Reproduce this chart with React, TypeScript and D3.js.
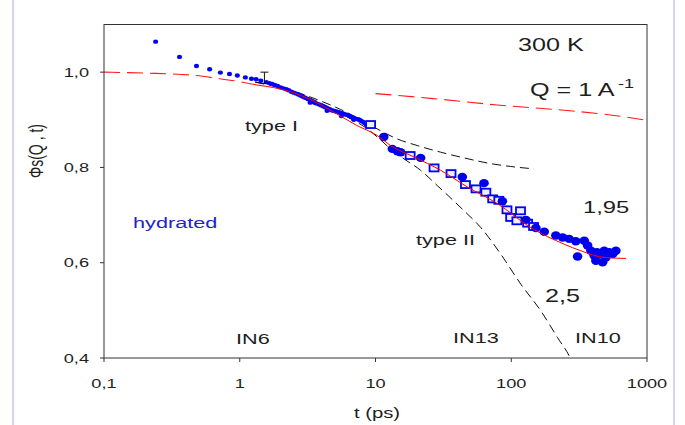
import React from "react";
import * as d3 from "d3";

const width = 685;
const height = 425;
const margin = { top: 24.5, right: 38, bottom: 67, left: 104 };
const FONT = "'Liberation Sans', Arial, sans-serif";
const SX = 1.4; // the reference is stretched sideways

const xTicks = [0.1, 1, 10, 100, 1000];
const xTickLabels = ["0,1", "1", "10", "100", "1000"];
const yTicks = [0.4, 0.6, 0.8, 1.0];
const yTickLabels = ["0,4", "0,6", "0,8", "1,0"];

// IN6 small dots
const in6T = [0.24, 0.36, 0.48, 0.6, 0.72, 0.84, 0.96, 1.1, 1.22, 1.32, 1.43, 1.57, 1.65, 1.73, 1.81, 1.9, 2.0, 2.1, 2.2, 2.29, 2.4, 2.5, 2.6, 2.7, 2.8, 2.9, 3.0, 3.1, 3.2, 3.3, 3.4, 3.5, 3.6, 3.7, 3.85, 4.0, 4.15, 4.3, 4.45, 4.6, 4.75, 4.9, 5.05, 5.2, 5.35, 5.5, 5.65, 5.8, 6.0, 6.2, 6.4, 6.6, 6.8, 7.0, 7.2, 7.4, 7.6, 7.8, 8.05, 8.3, 8.55, 8.8, 3.3, 4.4, 5.6, 6.9];
const in6V = [1.064, 1.032, 1.013, 1.006, 0.999, 0.996, 0.993, 0.989, 0.986, 0.985, 0.982, 0.979, 0.977, 0.975, 0.973, 0.971, 0.968, 0.966, 0.964, 0.962, 0.959, 0.957, 0.955, 0.953, 0.951, 0.949, 0.947, 0.945, 0.943, 0.941, 0.939, 0.937, 0.935, 0.934, 0.932, 0.93, 0.928, 0.926, 0.924, 0.922, 0.92, 0.919, 0.918, 0.917, 0.916, 0.915, 0.914, 0.913, 0.911, 0.91, 0.908, 0.906, 0.905, 0.903, 0.902, 0.901, 0.9, 0.898, 0.896, 0.893, 0.89, 0.888, 0.936, 0.919, 0.908, 0.9];

// IN13 open squares
const in13T = [9.2, 18, 27, 36, 46, 55, 65, 73, 81, 93, 117, 99, 110, 132, 146];
const in13V = [0.89, 0.825, 0.799, 0.787, 0.764, 0.755, 0.748, 0.734, 0.731, 0.711, 0.709, 0.695, 0.688, 0.683, 0.676];

// IN10 filled circles
const in10T = [11.5, 13.3, 14.5, 15.3, 21.5, 43.6, 63, 86, 128, 152, 175, 213, 239, 267, 299, 345, 365, 308, 386, 428, 484, 527, 590, 558, 420, 471, 498, 408, 458];
const in10V = [0.864, 0.839, 0.834, 0.832, 0.82, 0.78, 0.767, 0.729, 0.69, 0.673, 0.665, 0.657, 0.653, 0.65, 0.645, 0.646, 0.636, 0.613, 0.625, 0.622, 0.625, 0.622, 0.625, 0.618, 0.604, 0.601, 0.611, 0.615, 0.618];

// error bar on IN6
const errT = 1.52;
const errLo = 0.976;
const errHi = 1.0;

// red fit (dashed part, then solid)
const fitDashT = [0.1, 0.2, 0.43, 0.68, 1.0, 1.34];
const fitDashV = [1.0, 0.998, 0.994, 0.987, 0.98, 0.973];
const fitT = [1.34, 2.36, 3.41, 5.0, 7.3, 10.3, 12.9, 19.2, 30.2, 47.5, 79, 139, 245, 326, 484, 700];
const fitV = [0.973, 0.959, 0.941, 0.915, 0.888, 0.867, 0.846, 0.822, 0.794, 0.759, 0.724, 0.674, 0.639, 0.625, 0.611, 0.609];

// upper red dashed curve
const topT = [10, 25.5, 79, 245, 574, 1000];
const topV = [0.955, 0.945, 0.931, 0.92, 0.909, 0.899];

// type I and type II model curves
const type1T = [1.3, 2.0, 3.3, 5.5, 7.5, 9.7, 14.4, 20.3, 30.2, 44.9, 70.6, 99, 147];
const type1V = [0.979, 0.968, 0.948, 0.922, 0.903, 0.885, 0.86, 0.846, 0.832, 0.82, 0.808, 0.802, 0.797];
const type2T = [1.3, 2.0, 3.5, 5.5, 7.0, 8.4, 10.5, 12.9, 16.2, 21.5, 28.5, 44.9, 59.6, 83.7, 117.6, 165, 219, 275, 300];
const type2V = [0.979, 0.967, 0.942, 0.914, 0.898, 0.884, 0.862, 0.839, 0.818, 0.794, 0.762, 0.709, 0.674, 0.618, 0.555, 0.499, 0.443, 0.397, 0.37];

const zip = (t: number[], v: number[]) => t.map((d, i) => [d, v[i]] as [number, number]);

const x = d3.scaleLog().domain([0.1, 1000]).range([margin.left, width - margin.right]);
const y = d3.scaleLinear().domain([0.4, 1.1]).range([height - margin.bottom, margin.top]);

const line = d3
  .line<[number, number]>()
  .x((d) => x(d[0]))
  .y((d) => y(d[1]))
  .curve(d3.curveMonotoneX);

function Label({ x: lx, y: ly, size, children, anchor = "start", fill = "#1e1e1e" }: any) {
  return (
    <text
      transform={`translate(${lx},${ly}) scale(${SX},1)`}
      fontSize={size}
      textAnchor={anchor}
      fill={fill}
      fontFamily={FONT}
    >
      {children}
    </text>
  );
}

export default function App() {
  const x0 = margin.left;
  const x1 = width - margin.right;
  const y0 = height - margin.bottom;
  const y1 = margin.top;

  return (
    <svg width={width} height={height} style={{ position: "absolute", left: 0, top: 0, background: "#fff" }}>
      <defs>
        <clipPath id="plot">
          <rect x={x0} y={y1} width={x1 - x0} height={y0 - y1} />
        </clipPath>
      </defs>

      {/* curves */}
      <g clipPath="url(#plot)" fill="none">
        <path d={line(zip(topT, topV)) || ""} stroke="#ff1a1a" strokeWidth={1.1} strokeDasharray="16,7" />
        <path d={line(zip(fitDashT, fitDashV)) || ""} stroke="#ff1a1a" strokeWidth={1.1} strokeDasharray="16,7" />
        <path d={line(zip(type1T, type1V)) || ""} stroke="#111" strokeWidth={1} strokeDasharray="9,5" />
        <path d={line(zip(type2T, type2V)) || ""} stroke="#111" strokeWidth={1} strokeDasharray="9,5" />
      </g>

      {/* IN6 dots */}
      {zip(in6T, in6V).map((d, i) => (
        <ellipse key={"a" + i} cx={x(d[0])} cy={y(d[1])} rx={2.6} ry={2.2} fill="#0000ff" />
      ))}

      {/* error bar */}
      <g stroke="#111" strokeWidth={1}>
        <line x1={x(errT)} x2={x(errT)} y1={y(errHi)} y2={y(errLo)} />
        <line x1={x(errT) - 4} x2={x(errT) + 4} y1={y(errHi)} y2={y(errHi)} />
        <line x1={x(errT) - 4} x2={x(errT) + 4} y1={y(errLo)} y2={y(errLo)} />
      </g>

      {/* IN13 squares */}
      {zip(in13T, in13V).map((d, i) => (
        <rect key={"b" + i} x={x(d[0]) - 4.5} y={y(d[1]) - 3.5} width={9} height={7} fill="#eef" stroke="#0000ff" strokeWidth={1.8} />
      ))}

      {/* IN10 circles */}
      {zip(in10T, in10V).map((d, i) => (
        <ellipse key={"c" + i} cx={x(d[0])} cy={y(d[1])} rx={4.8} ry={4.2} fill="#0000ee" />
      ))}

      {/* red fit on top */}
      <path d={line(zip(fitT, fitV)) || ""} fill="none" stroke="#ff0000" strokeWidth={1} />

      {/* frame */}
      <rect x={x0} y={y1} width={x1 - x0} height={y0 - y1} fill="none" stroke="#333" strokeWidth={1} />

      {/* x axis */}
      {xTicks.map((t, i) => (
        <g key={"xt" + i}>
          <line x1={x(t)} x2={x(t)} y1={y0} y2={y0 + 4} stroke="#333" />
          <Label x={x(t)} y={388} size={13} anchor="middle">{xTickLabels[i]}</Label>
        </g>
      ))}
      {/* y axis */}
      {yTicks.map((t, i) => (
        <g key={"yt" + i}>
          <line x1={x0 - 4} x2={x0} y1={y(t)} y2={y(t)} stroke="#333" />
          <Label x={89} y={y(t) + 4.5} size={13} anchor="end">{yTickLabels[i]}</Label>
        </g>
      ))}

      <Label x={377} y={418} size={14.5} anchor="middle">t (ps)</Label>
      <text
        transform={`translate(43,151) scale(${SX},1) rotate(-90)`}
        fontSize={14}
        textAnchor="middle"
        fill="#1e1e1e"
        fontFamily={FONT}
      >
        Φs(Q , t)
      </text>

      {/* annotations */}
      <Label x={518} y={51} size={18}>300 K</Label>
      <Label x={530} y={96} size={18}>Q = 1 A</Label>
      <Label x={618} y={88} size={13}>-1</Label>
      <Label x={245} y={131} size={15.5}>type I</Label>
      <Label x={416} y={245} size={15.5}>type II</Label>
      <Label x={133} y={228} size={15.5} fill="#2323c8">hydrated</Label>
      <Label x={583} y={213} size={17}>1,95</Label>
      <Label x={545} y={302} size={18}>2,5</Label>
      <Label x={236} y={344} size={15.5}>IN6</Label>
      <Label x={453} y={343} size={15.5}>IN13</Label>
      <Label x={575} y={343} size={15.5}>IN10</Label>

      {/* page edge lines */}
      <rect x={673} y={0} width={12} height={height} fill="#fff" />
      <line x1={13} x2={13} y1={0} y2={height} stroke="#d6d6f2" strokeWidth={2} />
      <line x1={674} x2={674} y1={0} y2={height} stroke="#d6d6f2" strokeWidth={2} />
    </svg>
  );
}
